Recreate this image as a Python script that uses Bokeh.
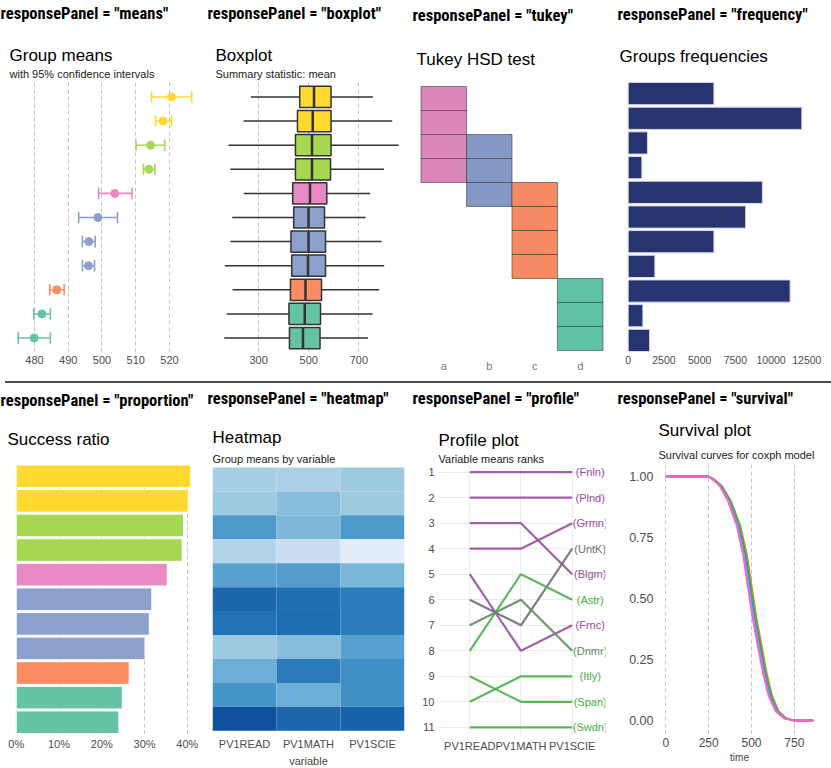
import os
import numpy as np
from bokeh.plotting import figure
from bokeh.models import (Range1d, Title, Div, FixedTicker, ColumnDataSource,
                          LinearColorMapper, NumeralTickFormatter)
from bokeh.layouts import column, row
from bokeh.embed import file_html
from bokeh.resources import INLINE
from bokeh.core.properties import value

# ---------------- data ----------------
rows = list(range(1, 12))
countries = ["Fnln", "Plnd", "Blgm", "Grmn", "Frnc", "UntK", "Dnmr", "Astr", "Span", "Itly", "Swdn"]

set2 = {"teal": "#66C2A5", "orange": "#FC8D62", "blue": "#8DA0CB",
        "pink": "#E78AC3", "green": "#A6D854", "yellow": "#FFD92F"}
row_groups = ["yellow", "yellow", "green", "green", "pink", "blue", "blue", "blue",
              "orange", "teal", "teal"]

# means panel
means_mean = [520.6, 518.1, 514.4, 513.9, 503.8, 498.8, 496.1, 496.0, 486.6, 482.2, 479.9]
means_lo = [514.7, 515.9, 510.1, 512.3, 499.0, 493.1, 494.2, 494.2, 484.5, 479.8, 475.2]
means_hi = [526.6, 520.6, 518.6, 515.7, 508.9, 504.6, 498.0, 497.8, 488.8, 484.7, 484.7]
means_ticks = [480, 490, 500, 510, 520]

# boxplot panel
box_wlo = [269, 240, 180, 187, 241, 195, 188, 165, 196, 173, 163]
box_q1 = [464, 455, 447, 447, 436, 440, 429, 432, 427, 421, 423]
box_mid = [521, 516, 513, 513, 505, 499, 499, 497, 487, 484, 477]
box_q3 = [589, 589, 589, 587, 572, 563, 567, 567, 551, 547, 545]
box_whi = [756, 833, 859, 800, 745, 727, 791, 801, 781, 755, 736]
box_ticks = [300, 500, 700]

# tukey panel
tukey_letters_by_row = ["a", "a", "ab", "ab", "bc", "c", "c", "c", "d", "d", "d"]
tukey_letters = ["a", "b", "c", "d"]
tukey_colors = {"a": "#DC86BA", "b": "#8599C7", "c": "#F68A64", "d": "#5FC2A5"}

# frequency panel
freq_n = [6000, 12150, 1355, 960, 9390, 8220, 6000, 1870, 11330, 1030, 1500]
freq_ticks = [0, 2500, 5000, 7500, 10000, 12500]

# proportion panel
prop = [0.408, 0.402, 0.391, 0.388, 0.353, 0.317, 0.311, 0.301, 0.264, 0.248, 0.240]
prop_ticks = [0.0, 0.1, 0.2, 0.3, 0.4]

# heatmap panel
heat_vars = ["PV1READ", "PV1MATH", "PV1SCIE"]
heat_read = [516, 513, 490, 520, 494, 470, 474, 513, 500, 488, 464]
heat_math = [518, 507, 505, 528, 492, 473, 472, 507, 478, 500, 470]
heat_scie = [513, 513, 490, 536, 504, 478, 478, 494, 486, 486, 469]

# profile panel
prof_countries = ["Fnln", "Plnd", "Grmn", "Blgm", "UntK", "Astr", "Frnc", "Dnmr", "Itly", "Span", "Swdn"]
prof_read = [1, 2, 4, 3, 6, 8, 5, 7, 10, 9, 11]
prof_math = [1, 2, 4, 3, 7, 5, 8, 6, 9, 10, 11]
prof_scie = [1, 2, 3, 5, 4, 6, 7, 8, 9, 10, 11]
prof_colors = ["#984EA3", "#984EA3", "#984EA3", "#984EA3", "#707070", "#4DAF4A",
               "#984EA3", "#5E8E5E", "#4DAF4A", "#4DAF4A", "#4DAF4A"]

# survival panel
surv_s = [1, 1, 0.99, 0.96, 0.90, 0.80, 0.68, 0.55, 0.42, 0.30, 0.19, 0.10, 0.04, 0.01, 0, 0]
surv_times = [
    [0, 248, 270, 315, 362, 413, 450, 478, 506, 538, 568, 600, 640, 688, 745, 860],
    [0, 248, 271, 317, 364, 416, 453, 481, 509, 541, 571, 603, 642, 690, 746, 860],
    [0, 248, 272, 318, 366, 417, 455, 483, 511, 543, 573, 604, 644, 690, 746, 860],
    [0, 248, 273, 320, 368, 420, 458, 486, 514, 546, 576, 607, 646, 692, 747, 860],
    [0, 248, 273, 321, 370, 422, 460, 488, 516, 548, 578, 609, 648, 693, 747, 860],
    [0, 248, 274, 322, 371, 424, 462, 490, 518, 550, 579, 611, 649, 694, 747, 860],
    [0, 248, 275, 323, 372, 426, 464, 492, 520, 552, 581, 613, 650, 695, 748, 860],
    [0, 248, 276, 325, 374, 427, 466, 494, 522, 554, 583, 614, 652, 696, 748, 860],
    [0, 248, 277, 326, 376, 430, 469, 497, 525, 557, 586, 617, 654, 698, 749, 860],
    [0, 248, 277, 328, 378, 432, 471, 499, 527, 559, 588, 619, 656, 699, 749, 860],
    [0, 248, 278, 329, 380, 435, 474, 502, 530, 562, 591, 622, 658, 700, 750, 860],
]
surv_colors = ["#FF63B6", "#EF67EB", "#B385FF", "#00A6FF", "#00BADE", "#00C1A7",
               "#00BD5C", "#64B200", "#AEA200", "#DB8E00", "#F8766D"]
surv_xticks = [0, 250, 500, 750]
surv_yticks = [0, 0.25, 0.5, 0.75, 1.0]

# ---------------- fonts ----------------
FONT = "Liberation Sans"


def _font_files():
    out = []
    for d in ["/usr/share/fonts", "/usr/local/share/fonts", os.path.expanduser("~/.fonts"),
              os.path.expanduser("~/.local/share/fonts")]:
        for root, _, files in os.walk(d):
            out.extend(f.lower().replace(" ", "").replace("_", "").replace("-", "") for f in files)
    return out


_ff = _font_files()


def _has(key):
    return any(key in f for f in _ff)


if _has("robotocondensed"):
    HFONT, HSIZE = "Roboto Condensed", "16.5px"
elif _has("liberationsansnarrow"):
    HFONT, HSIZE = "Liberation Sans Narrow", "17px"
elif _has("dejavusanscondensed"):
    HFONT, HSIZE = "DejaVu Sans Condensed", "14px"
else:
    HFONT, HSIZE = "Liberation Sans", "13.5px"

TICK_COLOR = "#4D4D4D"
GRID = "#C4C4C4"


def base_fig(width, height, xr, yr, left, right, bottom):
    p = figure(width=width, height=height, x_range=xr, y_range=yr,
               output_backend="svg", toolbar_location=None,
               min_border_left=left, min_border_right=right,
               min_border_bottom=bottom, min_border_top=0)
    p.outline_line_color = None
    p.grid.grid_line_color = None
    for ax in p.axis:
        ax.axis_line_color = None
        ax.major_tick_line_color = None
        ax.minor_tick_line_color = None
        ax.major_tick_out = 0
        ax.major_tick_in = 0
        ax.minor_tick_out = 0
        ax.minor_tick_in = 0
        ax.major_label_text_font = FONT
        ax.major_label_text_font_size = "11px"
        ax.major_label_text_color = TICK_COLOR
        ax.major_label_standoff = 3
    p.yaxis.visible = False
    return p


def add_titles(p, header, title, subtitle, left, s_head, gap, s_title, s_sub=0):
    if subtitle:
        p.add_layout(Title(text=subtitle, text_font=FONT, text_font_size="11px",
                           text_font_style="normal", text_color="#1A1A1A",
                           align="left", standoff=s_sub), "above")
    p.add_layout(Title(text=title, text_font=FONT, text_font_size="17px",
                       text_font_style="normal", text_color="#000000",
                       align="left", standoff=s_title), "above")
    p.add_layout(Title(text=" ", text_font=FONT, text_font_size="1px",
                       align="left", standoff=gap), "above")
    p.add_layout(Title(text=header, text_font=HFONT, text_font_size=HSIZE,
                       text_font_style="bold", text_color="#000000",
                       align="left", offset=-left, standoff=s_head), "above")


def dashed_xgrid(p, ticks):
    p.xaxis.ticker = FixedTicker(ticks=ticks)
    p.xgrid.grid_line_color = GRID
    p.xgrid.grid_line_dash = "4 3"
    p.xgrid.grid_line_width = 1


TOP_H = 374
BOT_H = 381
TOP_B = 22
BOT_B = 32
row_colors = [set2[g] for g in row_groups]

# ---------------- top row ----------------
# means
p1 = base_fig(207, TOP_H, Range1d(472.6, 529.2), Range1d(11.6, 0.4), 9, 7, TOP_B)
add_titles(p1, 'responsePanel = "means"', "Group means", "with 95% confidence intervals", 9,
           s_head=2, gap=19, s_title=-4, s_sub=6)
dashed_xgrid(p1, means_ticks)
src1 = ColumnDataSource(dict(y=rows, m=means_mean, lo=means_lo, hi=means_hi, c=row_colors,
                             y0=[r - 0.24 for r in rows], y1=[r + 0.24 for r in rows]))
p1.segment(x0="lo", x1="hi", y0="y", y1="y", line_color="c", line_width=1.6, source=src1)
p1.segment(x0="lo", x1="lo", y0="y0", y1="y1", line_color="c", line_width=1.6, source=src1)
p1.segment(x0="hi", x1="hi", y0="y0", y1="y1", line_color="c", line_width=1.6, source=src1)
p1.scatter(x="m", y="y", size=8, fill_color="c", line_color="c", source=src1)

# boxplot
p2 = base_fig(205, TOP_H, Range1d(128, 894), Range1d(11.6, 0.4), 8, 5, TOP_B)
add_titles(p2, 'responsePanel = "boxplot"', "Boxplot", "Summary statistic: mean", 8,
           s_head=2, gap=19, s_title=-4, s_sub=6)
dashed_xgrid(p2, box_ticks)
src2 = ColumnDataSource(dict(y=rows, wlo=box_wlo, whi=box_whi, q1=box_q1, q3=box_q3,
                             mid=box_mid, c=row_colors,
                             y0=[r - 0.44 for r in rows], y1=[r + 0.44 for r in rows]))
p2.segment(x0="wlo", x1="whi", y0="y", y1="y", line_color="#333333", line_width=1.5, source=src2)
p2.hbar(y="y", left="q1", right="q3", height=0.88, fill_color="c", line_color="#333333",
        line_width=1.5, source=src2)
p2.segment(x0="mid", x1="mid", y0="y0", y1="y1", line_color="#333333", line_width=2.5, source=src2)

# tukey
p3 = base_fig(205, TOP_H, Range1d(0.4, 4.6), Range1d(11.584, 0.333), 4, 10, TOP_B)
add_titles(p3, 'responsePanel = "tukey"', "Tukey HSD test", None, 4,
           s_head=2, gap=5, s_title=28)
tx, ty, tc = [], [], []
for r, letters in zip(rows, tukey_letters_by_row):
    for L in letters:
        tx.append(tukey_letters.index(L) + 1)
        ty.append(r)
        tc.append(tukey_colors[L])
p3.rect(x=tx, y=ty, width=1, height=1, fill_color=tc, fill_alpha=1.0,
        line_color="#3A3A3A", line_alpha=0.6, line_width=1)
p3.xaxis.ticker = FixedTicker(ticks=[1, 2, 3, 4])
p3.xaxis.major_label_overrides = {i + 1: L for i, L in enumerate(tukey_letters)}
p3.xaxis.major_label_text_color = "#777777"
p3.xaxis.major_label_standoff = 7

# frequency
p4 = base_fig(213, TOP_H, Range1d(-607, 12757), Range1d(11.49, 0.55), 2, 20, TOP_B)
add_titles(p4, 'responsePanel = "frequency"', "Groups frequencies", None, 2,
           s_head=2, gap=0, s_title=34)
p4.xaxis.ticker = FixedTicker(ticks=freq_ticks)
p4.xaxis.major_label_text_font_size = "10.5px"
p4.hbar(y=rows, left=0, right=freq_n, height=0.9, fill_color="#27346F",
        line_color="#D5DAEA", line_width=1)

# ---------------- bottom row ----------------
# proportion
p5 = base_fig(207, BOT_H, Range1d(-0.0204, 0.4284), Range1d(11.5, 0.52), 7, 8, BOT_B)
add_titles(p5, 'responsePanel = "proportion"', "Success ratio", None, 7,
           s_head=-3, gap=0, s_title=32)
dashed_xgrid(p5, prop_ticks)
p5.xaxis.formatter = NumeralTickFormatter(format="0%")
p5.hbar(y=rows, left=0, right=prop, height=0.92, fill_color=row_colors,
        line_color="white", line_width=1)

# heatmap
pal_stops = ["#084594", "#2171B5", "#4292C6", "#6BAED6", "#9ECAE1", "#C6DBEF", "#EFF3FF"]


def _hex(c):
    return [int(c[i:i + 2], 16) for i in (1, 3, 5)]


stops = np.array([_hex(c) for c in pal_stops], dtype=float)
pos = np.linspace(0, 1, len(pal_stops))
tt = np.linspace(0, 1, 256)
pal = ["#%02x%02x%02x" % tuple(int(round(np.interp(t, pos, stops[:, k]))) for k in range(3)) for t in tt]
mapper = LinearColorMapper(palette=pal, low=460, high=540)

p6 = base_fig(205, BOT_H, Range1d(0.5, 3.5), Range1d(11.655, 0.375), 5, 8, BOT_B)
add_titles(p6, 'responsePanel = "heatmap"', "Heatmap", "Group means by variable", 5,
           s_head=-3, gap=12, s_title=8, s_sub=0)
hx, hy, hv = [], [], []
for j, vals in enumerate([heat_read, heat_math, heat_scie]):
    for r, v in zip(rows, vals):
        hx.append(j + 1)
        hy.append(r)
        hv.append(v)
src6 = ColumnDataSource(dict(x=hx, y=hy, v=hv))
p6.rect(x="x", y="y", width=1, height=1, fill_color={"field": "v", "transform": mapper},
        line_color=None, source=src6)
p6.xaxis.ticker = FixedTicker(ticks=[1, 2, 3])
p6.xaxis.major_label_overrides = {i + 1: v for i, v in enumerate(heat_vars)}
p6.xaxis.axis_label = "variable"
p6.xaxis.axis_label_text_font = FONT
p6.xaxis.axis_label_text_font_size = "11px"
p6.xaxis.axis_label_text_font_style = "normal"
p6.xaxis.axis_label_standoff = 2

# profile
p7 = base_fig(205, BOT_H, Range1d(-0.61, 2.65), Range1d(11.28, 0.7), 26, 12, BOT_B)
add_titles(p7, 'responsePanel = "profile"', "Profile plot", "Variable means ranks", 26,
           s_head=-3, gap=18, s_title=2, s_sub=0)
p7.yaxis.visible = True
p7.yaxis.ticker = FixedTicker(ticks=list(range(1, 12)))
p7.xaxis.ticker = FixedTicker(ticks=[0, 1, 2])
p7.xaxis.major_label_overrides = {i: v for i, v in enumerate(heat_vars)}
p7.xgrid.grid_line_color = "#EBEBEB"
p7.ygrid.grid_line_color = "#EBEBEB"
p7.xaxis.major_label_standoff = 5
p7.yaxis.major_label_standoff = 4
xs = [[0, 1, 2] for _ in prof_countries]
ys = [[a, b, c] for a, b, c in zip(prof_read, prof_math, prof_scie)]
p7.multi_line(xs=xs, ys=ys, line_color=prof_colors, line_width=2.2, line_alpha=0.9)
p7.text(x=[2] * len(prof_countries), y=prof_scie,
        text=["(" + c + ")" for c in prof_countries], text_color=prof_colors,
        x_offset=18, text_align="center", text_baseline="middle",
        text_font=value(FONT), text_font_size="11px")

# survival
p8 = base_fig(213, BOT_H, Range1d(-43, 903), Range1d(-0.057, 1.049), 41, 10, BOT_B)
add_titles(p8, 'responsePanel = "survival"', "Survival plot", "Survival curves for coxph model", 41,
           s_head=-3, gap=5, s_title=8, s_sub=7)
p8.yaxis.visible = True
dashed_xgrid(p8, surv_xticks)
p8.yaxis.ticker = FixedTicker(ticks=surv_yticks)
p8.yaxis.formatter = NumeralTickFormatter(format="0.00")
p8.yaxis.major_label_text_font_size = "12.5px"
p8.xaxis.major_label_text_font_size = "12px"
p8.yaxis.major_label_standoff = 5
p8.xaxis.axis_label = "time"
p8.xaxis.axis_label_text_font = FONT
p8.xaxis.axis_label_text_font_size = "10px"
p8.xaxis.axis_label_text_font_style = "normal"
p8.xaxis.axis_label_standoff = 2
for i in range(len(surv_times) - 1, -1, -1):
    p8.line(x=surv_times[i], y=surv_s, line_color=surv_colors[i], line_width=1.6)

sep = Div(text="", width=830, height=4,
          styles={"border-bottom": "2px solid #4D4D4D", "box-sizing": "border-box"})

layout = column(row(p1, p2, p3, p4), sep, row(p5, p6, p7, p8))
open("out.html", "w").write(file_html(layout, INLINE))
